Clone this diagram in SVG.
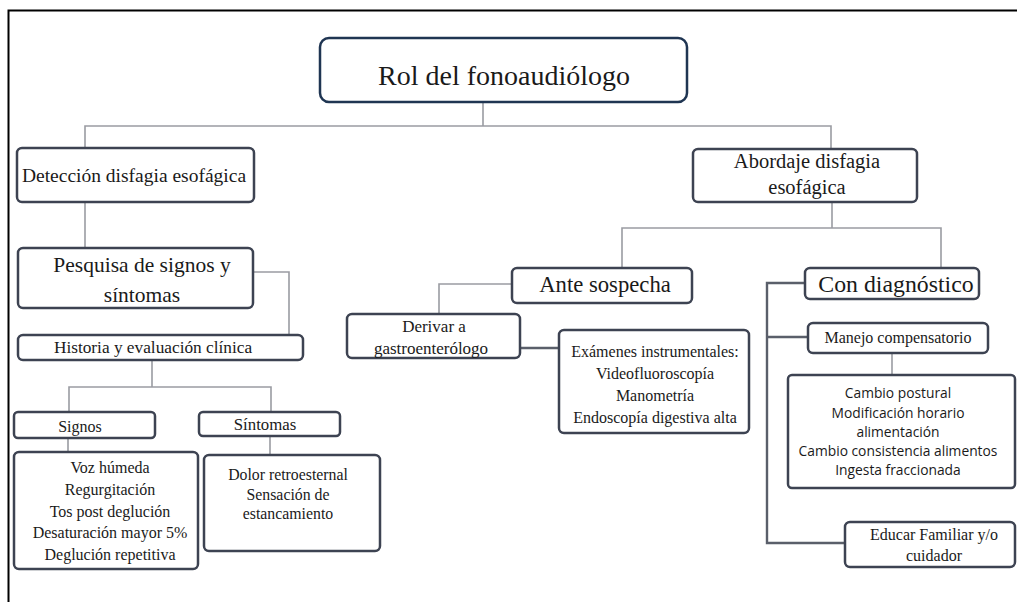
<svg xmlns="http://www.w3.org/2000/svg" width="1017" height="602" viewBox="0 0 1017 602">
<style>
.box{fill:#fff;stroke:#3d4352;stroke-width:2.5}
.root{fill:#fff;stroke:#1f3552;stroke-width:2.5}
.c{fill:none;stroke:#9a9ca2;stroke-width:1.6}
.cd{fill:none;stroke:#5a5f6a;stroke-width:2.4}
.t{font-family:"Liberation Serif","Times New Roman",serif;fill:#1a1a1a;text-anchor:middle}
.s{font-family:"Open Sans","Noto Sans",sans-serif;fill:#1a1a1a;text-anchor:middle}
</style>
<rect width="1017" height="602" fill="#fff"/>
<path d="M8.5 602V10.5H1017" fill="none" stroke="#000" stroke-width="2"/>
<g id="connectors">
<path class="c" d="M483 102V126M85 148V126H831V148"/>
<path class="c" d="M85 202V248"/>
<path class="c" d="M253 272H289V335"/>
<path class="c" d="M152 360V387M69 412V387H271V412"/>
<path class="c" d="M68 438V452M270 436V455"/>
<path class="c" d="M832 202V228M622 268V228H941V268"/>
<path class="c" d="M512 284H439V314"/>
<path class="cd" d="M520 348H559" stroke="#3d4352" stroke-width="3"/>
<path class="cd" d="M805 283H767V543H845M767 337H808"/>
<path class="c" d="M892 353V375"/>
</g>
<g id="root"><rect class="root" x="320" y="38" width="367" height="64" rx="9"/><text class="t" x="504" y="85" font-size="28">Rol del fonoaudiólogo</text></g>
<g id="deteccion"><rect class="box" x="17" y="148" width="237" height="54" rx="5"/><text class="t" x="134" y="182" font-size="19.5">Detección disfagia esofágica</text></g>
<g id="pesquisa"><rect class="box" x="18" y="248" width="235" height="60" rx="5"/><text class="t" x="142" y="272" font-size="21.5">Pesquisa de signos y</text><text class="t" x="142" y="302" font-size="21.5">síntomas</text></g>
<g id="historia"><rect class="box" x="18" y="335" width="285" height="25" rx="5"/><text class="t" x="153" y="353" font-size="17.3">Historia y evaluación clínica</text></g>
<g id="signos"><rect class="box" x="14" y="412" width="141" height="26" rx="4"/><text class="t" x="80" y="432" font-size="16">Signos</text></g>
<g id="sintomas"><rect class="box" x="199" y="412" width="141" height="24" rx="4"/><text class="t" x="265" y="430" font-size="16.8">Síntomas</text></g>
<g id="signos-lista"><rect class="box" x="14" y="452" width="184" height="117" rx="5"/>
<text class="t" font-size="16"><tspan x="110" y="473">Voz húmeda</tspan><tspan x="110" y="495">Regurgitación</tspan><tspan x="110" y="517">Tos post deglución</tspan><tspan x="110" y="538">Desaturación mayor 5%</tspan><tspan x="110" y="560">Deglución repetitiva</tspan></text></g>
<g id="sintomas-lista"><rect class="box" x="204" y="455" width="176" height="96" rx="5"/>
<text class="t" font-size="15.8"><tspan x="288" y="480">Dolor retroesternal</tspan><tspan x="288" y="500">Sensación de</tspan><tspan x="288" y="519">estancamiento</tspan></text></g>
<g id="abordaje"><rect class="box" x="693" y="149" width="224" height="53" rx="5"/><text class="t" x="807" y="168" font-size="20.5">Abordaje disfagia</text><text class="t" x="807" y="194" font-size="20.5">esofágica</text></g>
<g id="ante"><rect class="box" x="512" y="268" width="180" height="35" rx="5"/><text class="t" x="605" y="292" font-size="22.7">Ante sospecha</text></g>
<g id="derivar"><rect class="box" x="347" y="314" width="173" height="44" rx="5"/><text class="t" x="434" y="332" font-size="17">Derivar a</text><text class="t" x="431" y="354" font-size="17">gastroenterólogo</text></g>
<g id="examenes"><rect class="box" x="559" y="330" width="190" height="103" rx="5"/>
<text class="t" font-size="16"><tspan x="655" y="357">Exámenes instrumentales:</tspan><tspan x="655" y="379">Videofluoroscopía</tspan><tspan x="655" y="401">Manometría</tspan><tspan x="655" y="423">Endoscopía digestiva alta</tspan></text></g>
<g id="condiagnostico"><rect class="box" x="805" y="268" width="174" height="31" rx="5"/><text class="t" x="896" y="292" font-size="23.8">Con diagnóstico</text></g>
<g id="manejo"><rect class="box" x="808" y="323" width="180" height="30" rx="5"/><text class="t" x="898" y="343" font-size="16">Manejo compensatorio</text></g>
<g id="cambio"><rect class="box" x="788" y="375" width="227" height="113" rx="4"/>
<text class="s" font-size="13.8"><tspan x="898" y="398">Cambio postural</tspan><tspan x="898" y="418">Modificación horario</tspan><tspan x="898" y="437">alimentación</tspan><tspan x="898" y="456">Cambio consistencia alimentos</tspan><tspan x="898" y="475">Ingesta fraccionada</tspan></text></g>
<g id="educar"><rect class="box" x="845" y="522" width="170" height="45" rx="5"/><text class="t" x="934" y="540" font-size="16">Educar Familiar y/o</text><text class="t" x="934" y="561" font-size="16">cuidador</text></g>
</svg>
